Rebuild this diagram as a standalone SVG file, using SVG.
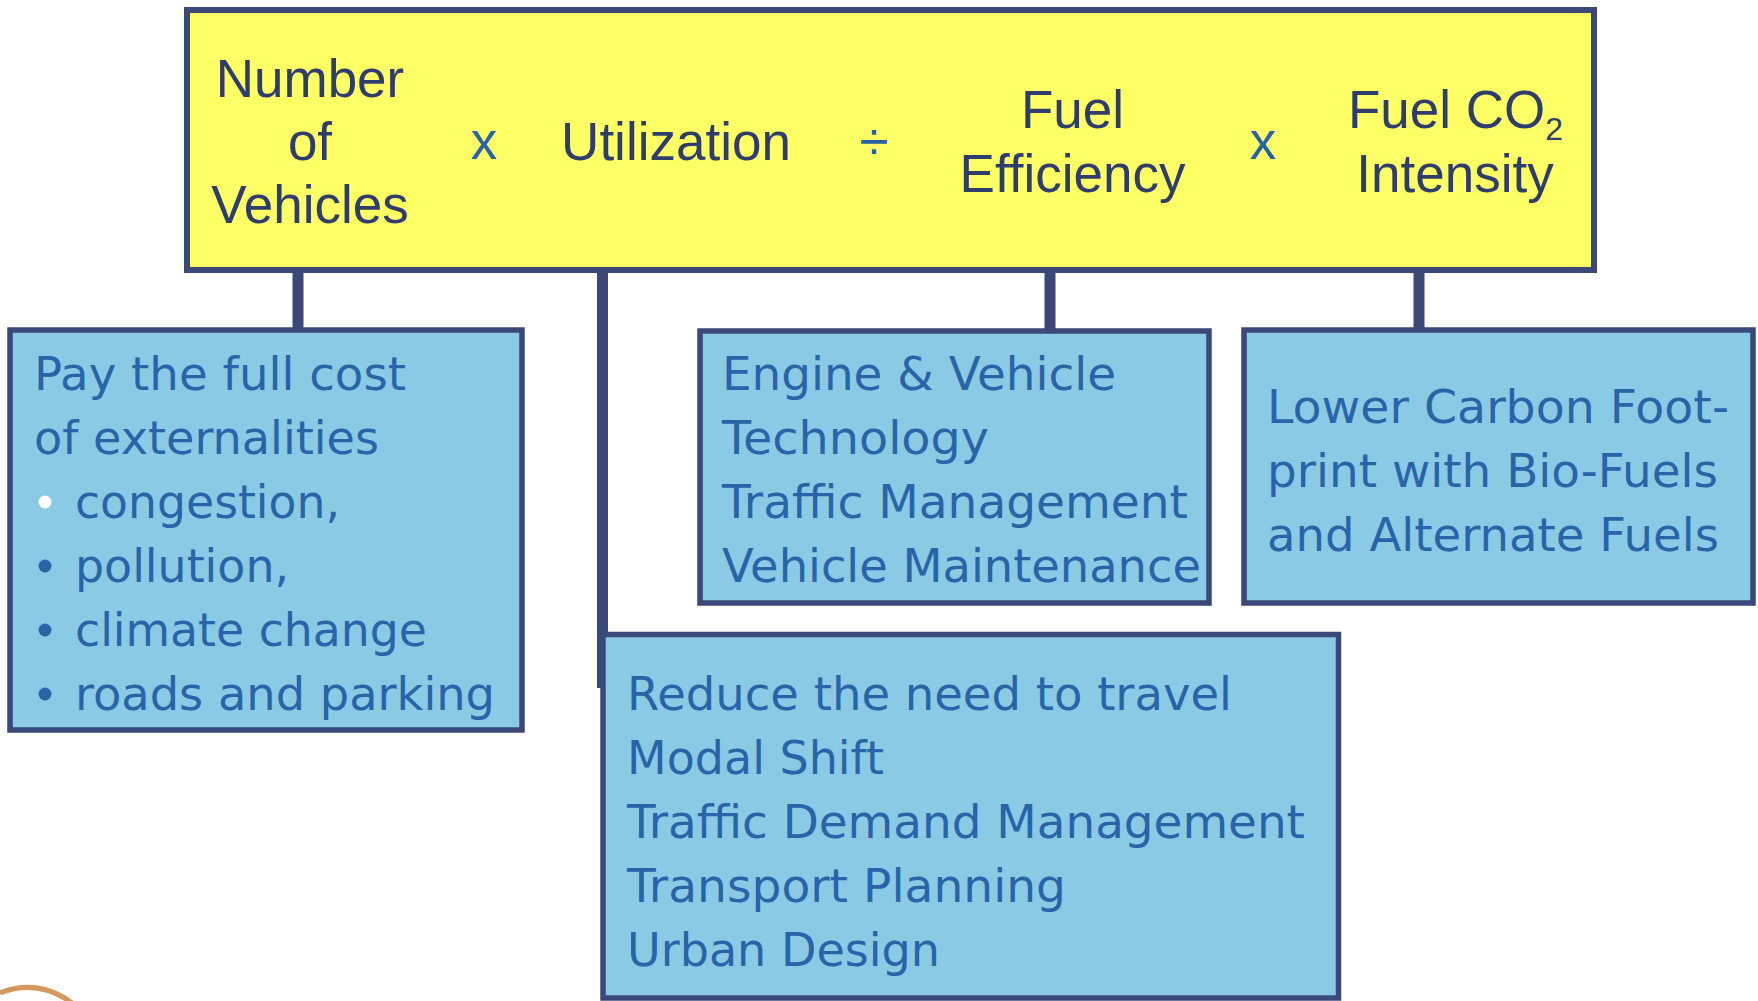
<svg xmlns="http://www.w3.org/2000/svg" width="1758" height="1001" viewBox="0 0 1758 1001">
  <style>
    .head { fill: #FFFF66; stroke: #3A4977; stroke-width: 6; }
    .box { fill: #8BCAE5; stroke: #3A4977; stroke-width: 5.5; }
    .link { stroke: #3A4977; stroke-width: 11; fill: none; }
    .term { font-family: "Liberation Sans", Arial, sans-serif; font-size: 53px; fill: #2E3D6C; }
    .op { font-family: "Liberation Sans", Arial, sans-serif; font-size: 53px; fill: #2A62A8; }
    .item { font-family: "DejaVu Sans", Verdana, sans-serif; font-size: 47px; fill: #2A64A8; }
    .dot { fill: #2A64A8; }
  </style>
  <rect width="1758" height="1001" fill="#FFFFFF"/>

  <!-- connectors from the formula bar down to each lever -->
  <g id="connectors">
    <line class="link" x1="298" y1="270" x2="298" y2="332"/>
    <line class="link" x1="602.5" y1="270" x2="602.5" y2="688"/>
    <line class="link" x1="1050" y1="270" x2="1050" y2="333"/>
    <line class="link" x1="1419" y1="270" x2="1419" y2="332"/>
  </g>

  <!-- formula bar -->
  <g id="formula">
    <rect class="head" x="187" y="10" width="1407" height="260"/>
    <text class="term" text-anchor="middle" x="310" y="97">Number</text>
    <text class="term" text-anchor="middle" x="310" y="160">of</text>
    <text class="term" text-anchor="middle" x="310" y="223">Vehicles</text>
    <text class="op" text-anchor="middle" x="484" y="159">x</text>
    <text class="term" text-anchor="middle" x="676" y="160">Utilization</text>
    <text class="op" text-anchor="middle" x="874" y="160">÷</text>
    <text class="term" text-anchor="middle" x="1072.5" y="128">Fuel</text>
    <text class="term" text-anchor="middle" x="1072.5" y="192">Efficiency</text>
    <text class="op" text-anchor="middle" x="1263" y="159">x</text>
    <text class="term" x="1348" y="128">Fuel CO<tspan font-size="32" dy="12">2</tspan></text>
    <text class="term" text-anchor="middle" x="1455" y="192">Intensity</text>
  </g>

  <!-- lever: number of vehicles -->
  <g id="externalities">
    <rect class="box" x="10" y="330" width="512" height="400"/>
    <text class="item" x="34" y="390" textLength="372" lengthAdjust="spacingAndGlyphs">Pay the full cost</text>
    <text class="item" x="34" y="454" textLength="345" lengthAdjust="spacingAndGlyphs">of externalities</text>
    <circle cx="45" cy="502" r="6.5" fill="#FFFFFF"/>
    <text class="item" x="75" y="518" textLength="265" lengthAdjust="spacingAndGlyphs">congestion,</text>
    <circle class="dot" cx="45" cy="566" r="6.5"/>
    <text class="item" x="75" y="582" textLength="214" lengthAdjust="spacingAndGlyphs">pollution,</text>
    <circle class="dot" cx="45" cy="630" r="6.5"/>
    <text class="item" x="75" y="646" textLength="352" lengthAdjust="spacingAndGlyphs">climate change</text>
    <circle class="dot" cx="45" cy="694" r="6.5"/>
    <text class="item" x="75" y="710" textLength="420" lengthAdjust="spacingAndGlyphs">roads and parking</text>
  </g>

  <!-- lever: fuel efficiency -->
  <g id="efficiency">
    <rect class="box" x="700" y="331" width="509" height="272"/>
    <text class="item" x="722" y="390" textLength="394" lengthAdjust="spacingAndGlyphs">Engine &amp; Vehicle</text>
    <text class="item" x="722" y="454" textLength="267" lengthAdjust="spacingAndGlyphs">Technology</text>
    <text class="item" x="722" y="518" textLength="466" lengthAdjust="spacingAndGlyphs">Traffic Management</text>
    <text class="item" x="722" y="582" textLength="479" lengthAdjust="spacingAndGlyphs">Vehicle Maintenance</text>
  </g>

  <!-- lever: fuel carbon intensity -->
  <g id="fuels">
    <rect class="box" x="1244" y="330" width="509" height="273"/>
    <text class="item" x="1267" y="423" textLength="462" lengthAdjust="spacingAndGlyphs">Lower Carbon Foot-</text>
    <text class="item" x="1267" y="487" textLength="451" lengthAdjust="spacingAndGlyphs">print with Bio-Fuels</text>
    <text class="item" x="1267" y="551" textLength="452" lengthAdjust="spacingAndGlyphs">and Alternate Fuels</text>
  </g>

  <!-- lever: utilization -->
  <g id="utilization">
    <rect class="box" x="603" y="634.5" width="735.5" height="363.5"/>
    <text class="item" x="627" y="710" textLength="605" lengthAdjust="spacingAndGlyphs">Reduce the need to travel</text>
    <text class="item" x="627" y="774" textLength="257" lengthAdjust="spacingAndGlyphs">Modal Shift</text>
    <text class="item" x="627" y="838" textLength="678" lengthAdjust="spacingAndGlyphs">Traffic Demand Management</text>
    <text class="item" x="627" y="902" textLength="439" lengthAdjust="spacingAndGlyphs">Transport Planning</text>
    <text class="item" x="627" y="966" textLength="313" lengthAdjust="spacingAndGlyphs">Urban Design</text>
  </g>

  <!-- decorative swash in the corner -->
  <path d="M0,993 Q38,978 72,1003" fill="none" stroke="#D4975C" stroke-width="5"/>
</svg>
